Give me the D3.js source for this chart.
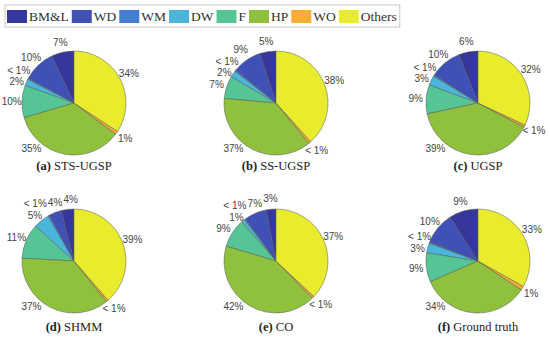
<html>
<head>
	<meta charset="utf-8">
	<title>pie grid</title>
	<script src="https://d3js.org/d3.v7.min.js"></script>
	<style>
		body { margin: 0; background: #fff; }
		.legend text { font-family: "Liberation Serif", "DejaVu Serif", serif; font-size: 13.5px; fill: #333; }
		.caption { font-family: "Liberation Serif", "DejaVu Serif", serif; font-size: 12.5px; fill: #222; }
		.pct { font-family: "Liberation Sans", Arial, sans-serif; font-size: 10px; fill: #444; }
		.slice { stroke: #555; stroke-width: 0.5px; }
	</style>
</head>
<body>
	<svg id="chart" width="550" height="343"></svg>
<script>

// Categories (counter-clockwise from 12 o'clock)
var categories = ["BM&L", "WD", "WM", "DW", "F", "HP", "WO", "Others"];
var colors = ["#35379b", "#3f51b6", "#437ed2", "#4bb6dc", "#55c596", "#8fc13c", "#f9ad34", "#e8ec2d"];

// Panels
var letters = ["a", "b", "c", "d", "e", "f"];
var methods = ["STS-UGSP", "SS-UGSP", "UGSP", "SHMM", "CO", "Ground truth"];

// Shares in percent (values below 1 are shown as "< 1%")
var stsUgsp     = [7, 10, 0.4, 2, 10, 35, 1.0, 34];
var ssUgsp      = [5, 9, 0.4, 2, 7, 37, 0.7, 38];
var ugsp        = [6, 10, 0.4, 3, 9, 39, 0.7, 32];
var shmm        = [4, 4, 0.4, 5, 11, 37, 0.6, 39];
var co          = [3, 7, 0.4, 1, 9, 42, 0.6, 37];
var groundTruth = [9, 10, 0.4, 3, 9, 34, 1.2, 33];
var panelValues = [stsUgsp, ssUgsp, ugsp, shmm, co, groundTruth];

var svg = d3.select("#chart");

//
// Legend
//
var legendG = svg.append("g").attr("class", "legend");
var legendBox = legendG.append("rect")
	.attr("x", 5).attr("y", 5)
	.attr("height", 22)
	.attr("fill", "#fff")
	.attr("stroke", "#c8c8c8")
	.attr("stroke-width", 1);

var lx = 7;
categories.forEach(function(c, i) {
	legendG.append("rect")
		.attr("x", lx).attr("y", 10)
		.attr("width", 20).attr("height", 13)
		.attr("fill", colors[i]);
	var t = legendG.append("text")
		.attr("x", lx + 22)
		.attr("y", 21)
		.text(c);
	lx += 22 + t.node().getComputedTextLength() + 3;
});
legendBox.attr("width", lx - 5);

//
// Pies
//
var colX = d3.scalePoint().domain([0, 1, 2]).range([74, 478]);
var rowY = d3.scalePoint().domain([0, 1]).range([103, 261]);
var radius = 52;

var pie = d3.pie().sort(null).startAngle(0).endAngle(-2 * Math.PI);
var arc = d3.arc().innerRadius(0).outerRadius(radius);

function labelText(v) {
	return v < 1 ? "< 1%" : Math.round(v) + "%";
}

// push overlapping label boxes apart (sideways near the top, vertically elsewhere)
function relax(items) {
	for (var it = 0; it < 400; it++) {
		var moved = false;
		for (var i = 0; i < items.length; i++) {
			for (var j = i + 1; j < items.length; j++) {
				var a = items[i], b = items[j];
				var ox = (a.w + b.w) / 2 + 1 - Math.abs(a.x - b.x);
				var oy = (a.h + b.h) / 2 - Math.abs(a.y - b.y);
				if (ox > 0.01 && oy > 0.01) {
					moved = true;
					var nearTop = Math.abs((a.ang + b.ang) / 2) < 32 * Math.PI / 180;
					if (oy < ox && !nearTop) {
						var sy = (a.y < b.y ? -1 : 1) * (oy / 2 + 0.1);
						a.y += sy; b.y -= sy;
					} else {
						var sx = (a.x < b.x ? -1 : 1) * (ox / 2 + 0.1);
						a.x += sx; b.x -= sx;
					}
				}
			}
		}
		if (!moved) break;
	}
}

panelValues.forEach(function(vals, p) {
	var cx = colX(p % 3), cy = rowY(Math.floor(p / 3));
	var g = svg.append("g").attr("transform", "translate(" + cx + "," + cy + ")");
	var arcs = pie(vals);

	g.selectAll(".slice")
		.data(arcs)
		.enter().append("path")
			.attr("class", "slice")
			.attr("d", arc)
			.attr("fill", function(d, i) { return colors[i]; });

	var labels = g.selectAll(".pct")
		.data(arcs)
		.enter().append("text")
			.attr("class", "pct")
			.attr("text-anchor", "middle")
			.attr("dominant-baseline", "central")
			.text(function(d) { return labelText(d.data); });

	var items = [];
	labels.each(function(d, i) {
		var a = categories[i] === "HP" ? -137 * Math.PI / 180 : (d.startAngle + d.endAngle) / 2;
		items.push({
			ang: a,
			x: Math.sin(a) * radius * 1.2,
			y: -Math.cos(a) * radius * 1.2,
			w: this.getComputedTextLength(),
			h: 11.5
		});
	});
	relax(items);
	labels
		.attr("x", function(d, i) { return items[i].x; })
		.attr("y", function(d, i) { return items[i].y; });

	var cap = g.append("text")
		.attr("class", "caption")
		.attr("text-anchor", "middle")
		.attr("y", radius + 15 + (p >= 3 ? 3 : 0));
	cap.append("tspan").attr("font-weight", "bold").text("(" + letters[p] + ")");
	cap.append("tspan").text(" " + methods[p]);
});

</script>
</body>
</html>
